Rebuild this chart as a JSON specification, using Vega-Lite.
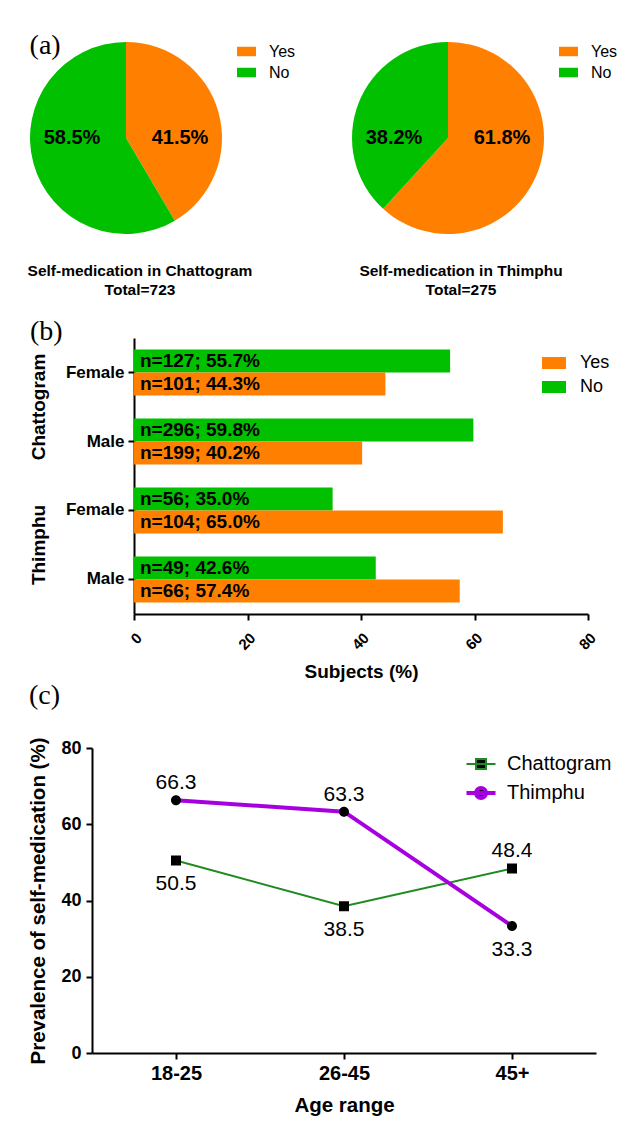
{
  "$schema": "https://vega.github.io/schema/vega-lite/v6.json",
  "padding": {"left": 27, "top": 32, "right": 0, "bottom": 0},
  "background": "white",
  "config": {
    "font": "Liberation Sans",
    "view": {"stroke": null},
    "axis": {"grid": false, "domainColor": "black", "domainWidth": 2, "tickColor": "black", "tickWidth": 2, "tickSize": 6, "labelColor": "black", "titleColor": "black", "labelFont": "Liberation Sans", "titleFont": "Liberation Sans", "labelFontWeight": "bold", "titleFontWeight": "bold"},
    "legend": {"labelColor": "black", "labelFont": "Liberation Sans"},
    "title": {"color": "black"}
  },
  "spacing": 0,
  "resolve": {"scale": {"color": "independent", "shape": "independent", "strokeWidth": "independent", "x": "independent", "y": "independent", "theta": "independent"}, "legend": {"color": "independent", "shape": "independent"}},
  "vconcat": [
    {
      "title": {"text": "(a)", "anchor": "start", "frame": "bounds", "font": "Liberation Serif", "fontSize": 28, "fontWeight": "normal", "offset": -18, "dx": 2},
      "spacing": 56,
      "resolve": {"scale": {"color": "independent", "theta": "independent"}, "legend": {"color": "independent"}},
      "hconcat": [
        {
          "width": 192, "height": 192,
          "title": {"text": ["Self-medication in Chattogram", "Total=723", " "], "orient": "bottom", "fontSize": 15.5, "fontWeight": "bold", "lineHeight": 19, "offset": 30, "dx": 14, "anchor": "middle"},
          "data": {"values": [{"answer": "Yes", "pct": 41.5, "label": "41.5%"}, {"answer": "No", "pct": 58.5, "label": "58.5%"}]},
          "layer": [
            {"mark": {"type": "arc", "radius": 96},
             "encoding": {
               "theta": {"field": "pct", "type": "quantitative", "stack": true},
               "order": {"field": "answer", "sort": "descending"},
               "color": {"field": "answer", "type": "nominal", "scale": {"domain": ["Yes", "No"], "range": ["#ff8000", "#00c000"]},
                 "legend": {"title": null, "orient": "right", "offset": 15, "padding": 0, "symbolType": "M-1,-0.5H1V0.5H-1Z", "symbolSize": 361, "symbolStrokeWidth": 0, "labelFontSize": 16, "rowPadding": 3, "labelOffset": 13}}
             }},
            {"transform": [{"filter": "datum.answer === 'Yes'"}],
             "mark": {"type": "text", "dx": 54, "fontSize": 20, "fontWeight": "bold", "color": "black"},
             "encoding": {"text": {"field": "label"}}},
            {"transform": [{"filter": "datum.answer === 'No'"}],
             "mark": {"type": "text", "dx": -54, "fontSize": 20, "fontWeight": "bold", "color": "black"},
             "encoding": {"text": {"field": "label"}}}
          ]
        },
        {
          "width": 192, "height": 192,
          "title": {"text": ["Self-medication in Thimphu", "Total=275", " "], "orient": "bottom", "fontSize": 15.5, "fontWeight": "bold", "lineHeight": 19, "offset": 30, "dx": 13, "anchor": "middle"},
          "data": {"values": [{"answer": "Yes", "pct": 61.8, "label": "61.8%"}, {"answer": "No", "pct": 38.2, "label": "38.2%"}]},
          "layer": [
            {"mark": {"type": "arc", "radius": 96},
             "encoding": {
               "theta": {"field": "pct", "type": "quantitative", "stack": true},
               "order": {"field": "answer", "sort": "descending"},
               "color": {"field": "answer", "type": "nominal", "scale": {"domain": ["Yes", "No"], "range": ["#ff8000", "#00c000"]},
                 "legend": {"title": null, "orient": "right", "offset": 15, "padding": 0, "symbolType": "M-1,-0.5H1V0.5H-1Z", "symbolSize": 361, "symbolStrokeWidth": 0, "labelFontSize": 16, "rowPadding": 3, "labelOffset": 13}}
             }},
            {"transform": [{"filter": "datum.answer === 'Yes'"}],
             "mark": {"type": "text", "dx": 54, "fontSize": 20, "fontWeight": "bold", "color": "black"},
             "encoding": {"text": {"field": "label"}}},
            {"transform": [{"filter": "datum.answer === 'No'"}],
             "mark": {"type": "text", "dx": -54, "fontSize": 20, "fontWeight": "bold", "color": "black"},
             "encoding": {"text": {"field": "label"}}}
          ]
        }
      ]
    },
    {
      "title": {"text": "(b)", "anchor": "start", "frame": "bounds", "font": "Liberation Serif", "fontSize": 28, "fontWeight": "normal", "offset": -8},
      "width": 558, "height": 276,
      "data": {"values": [
        {"city": "Chattogram", "gender": "Female", "group": "Chattogram Female", "answer": "No", "pct": 55.7, "label": "n=127; 55.7%"},
        {"city": "Chattogram", "gender": "Female", "group": "Chattogram Female", "answer": "Yes", "pct": 44.3, "label": "n=101; 44.3%"},
        {"city": "Chattogram", "gender": "Male", "group": "Chattogram Male", "answer": "No", "pct": 59.8, "label": "n=296; 59.8%"},
        {"city": "Chattogram", "gender": "Male", "group": "Chattogram Male", "answer": "Yes", "pct": 40.2, "label": "n=199; 40.2%"},
        {"city": "Thimphu", "gender": "Female", "group": "Thimphu Female", "answer": "No", "pct": 35.0, "label": "n=56; 35.0%"},
        {"city": "Thimphu", "gender": "Female", "group": "Thimphu Female", "answer": "Yes", "pct": 65.0, "label": "n=104; 65.0%"},
        {"city": "Thimphu", "gender": "Male", "group": "Thimphu Male", "answer": "No", "pct": 42.6, "label": "n=49; 42.6%"},
        {"city": "Thimphu", "gender": "Male", "group": "Thimphu Male", "answer": "Yes", "pct": 57.4, "label": "n=66; 57.4%"}
      ]},
      "resolve": {"scale": {"y": "independent"}},
      "layer": [
        {
          "encoding": {
            "y": {"field": "group", "type": "nominal", "sort": ["Chattogram Female", "Chattogram Male", "Thimphu Female", "Thimphu Male"], "title": null,
              "scale": {"paddingInner": 0.333, "paddingOuter": 0.1667},
              "axis": {"labelExpr": "split(datum.label, ' ')[1]", "labelFontSize": 17, "labelPadding": 4, "offset": -104}},
            "yOffset": {"field": "answer", "type": "nominal", "sort": ["No", "Yes"], "scale": {"paddingInner": 0, "paddingOuter": 0}},
            "x": {"field": "pct", "type": "quantitative", "scale": {"domain": [0, 80], "range": [104, 558]},
              "axis": {"values": [0, 20, 40, 60, 80], "labelAngle": -45, "labelFontSize": 15, "labelPadding": 10, "title": "Subjects (%)", "titleFontSize": 19, "titlePadding": 10}}
          },
          "layer": [
            {"mark": "bar",
             "encoding": {
               "color": {"field": "answer", "type": "nominal", "scale": {"domain": ["Yes", "No"], "range": ["#ff8000", "#00c000"]},
                 "legend": {"title": null, "orient": "none", "legendX": 512, "legendY": 13, "padding": 0, "symbolType": "M-1,-0.5H1V0.5H-1Z", "symbolSize": 576, "symbolStrokeWidth": 0, "labelFontSize": 18, "rowPadding": 3, "labelOffset": 14}}
             }},
            {"mark": {"type": "text", "align": "left", "dx": 6, "fontSize": 19, "fontWeight": "bold", "color": "black"},
             "encoding": {"x": {"datum": 0}, "text": {"field": "label"}}}
          ]
        },
        {
          "transform": [{"aggregate": [{"op": "count", "as": "rows"}], "groupby": ["city"]}],
          "mark": {"type": "text", "angle": 270, "align": "center", "baseline": "middle", "dy": -95, "fontSize": 19, "fontWeight": "bold", "color": "black"},
          "encoding": {
            "y": {"field": "city", "type": "nominal", "sort": ["Chattogram", "Thimphu"], "scale": {"paddingInner": 0, "paddingOuter": 0}, "axis": null},
            "x": {"datum": 0},
            "text": {"field": "city"}
          }
        }
      ]
    },
    {
      "title": {"text": "(c)", "anchor": "start", "frame": "bounds", "font": "Liberation Serif", "fontSize": 28, "fontWeight": "normal", "offset": 27},
      "width": 566, "height": 305,
      "data": {"values": [
        {"age": "18-25", "city": "Chattogram", "value": 50.5},
        {"age": "26-45", "city": "Chattogram", "value": 38.5},
        {"age": "45+", "city": "Chattogram", "value": 48.4},
        {"age": "18-25", "city": "Thimphu", "value": 66.3},
        {"age": "26-45", "city": "Thimphu", "value": 63.3},
        {"age": "45+", "city": "Thimphu", "value": 33.3}
      ]},
      "encoding": {
        "x": {"field": "age", "type": "ordinal", "sort": ["18-25", "26-45", "45+"], "scale": {"type": "point", "padding": 0.5, "range": [62, 566]}, "axis": {"labelAngle": 0, "labelFontSize": 20, "labelPadding": 4, "title": "Age range", "titleFontSize": 20.5, "titlePadding": 12}},
        "y": {"field": "value", "type": "quantitative", "scale": {"domain": [0, 80]}, "axis": {"values": [0, 20, 40, 60, 80], "labelFontSize": 18, "labelPadding": 5, "title": "Prevalence of self-medication (%)", "titleFontSize": 20.5, "titlePadding": 12, "offset": -62}}
      },
      "layer": [
        {"mark": {"type": "line"},
         "encoding": {
           "color": {"field": "city", "type": "nominal", "scale": {"domain": ["Chattogram", "Thimphu"], "range": ["#1f8a1f", "#a600e0"]},
             "legend": {"title": null, "orient": "none", "legendX": 439, "legendY": 5, "padding": 0, "labelFontSize": 20, "rowPadding": 6, "symbolSize": 400, "symbolStrokeWidth": 2.5, "labelOffset": 14}},
           "strokeWidth": {"field": "city", "type": "nominal", "scale": {"domain": ["Chattogram", "Thimphu"], "range": [2, 4]}, "legend": null}
         }},
        {"mark": {"type": "point", "filled": true, "color": "black", "opacity": 1, "size": 400},
         "encoding": {
           "shape": {"field": "city", "type": "nominal", "scale": {"domain": ["Chattogram", "Thimphu"], "range": ["M-1.45,0H1.45M-0.5,-0.5H0.5V0.5H-0.5Z", "M-1.45,0H1.45M0.5,0A0.5,0.5,0,1,1,-0.5,0A0.5,0.5,0,1,1,0.5,0Z"]},
             "legend": {"title": null, "orient": "none", "legendX": 439, "legendY": 5, "padding": 0, "labelFontSize": 20, "rowPadding": 6, "symbolSize": 400, "symbolStrokeWidth": 2.5, "labelOffset": 14}}
         }},
        {"transform": [{"joinaggregate": [{"op": "max", "field": "value", "as": "maxv"}], "groupby": ["age"]}, {"filter": "datum.value === datum.maxv"}],
         "mark": {"type": "text", "dy": -17, "fontSize": 21, "color": "black"},
         "encoding": {"text": {"field": "value", "type": "quantitative", "format": ".1f"}}},
        {"transform": [{"joinaggregate": [{"op": "max", "field": "value", "as": "maxv"}], "groupby": ["age"]}, {"filter": "datum.value < datum.maxv"}],
         "mark": {"type": "text", "dy": 24, "fontSize": 21, "color": "black"},
         "encoding": {"text": {"field": "value", "type": "quantitative", "format": ".1f"}}}
      ]
    }
  ]
}
